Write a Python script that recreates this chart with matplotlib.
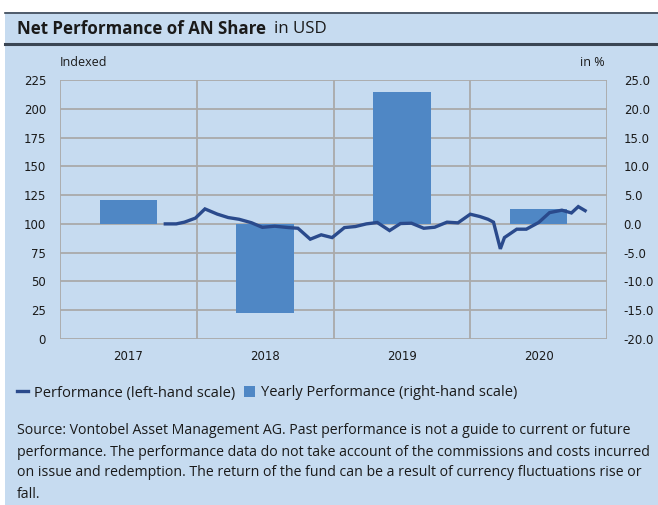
import matplotlib
matplotlib.use("Agg")
import matplotlib.pyplot as plt
from matplotlib.lines import Line2D
from matplotlib.patches import Rectangle

# Jahresperformance (rechte Skala, in %)
years = [2017, 2018, 2019, 2020]
yearly_perf = [4.1, -15.4, 22.9, 2.6]

# Indexierte Performance (linke Skala), x als Jahresbruchteil
perf_t = [2017.77, 2017.85, 2017.91, 2017.99, 2018.06, 2018.15, 2018.23,
          2018.31, 2018.40, 2018.48, 2018.57, 2018.67, 2018.74, 2018.83,
          2018.91, 2018.99, 2019.08, 2019.16, 2019.24, 2019.32, 2019.41,
          2019.49, 2019.57, 2019.66, 2019.74, 2019.83, 2019.91, 2020.00,
          2020.07, 2020.13, 2020.17, 2020.22, 2020.25, 2020.34, 2020.41,
          2020.50, 2020.58, 2020.67, 2020.74, 2020.79, 2020.84]
perf_idx = [100.0, 100.0, 101.5, 105.0, 113.0, 108.5, 105.5,
            104.0, 101.0, 97.0, 98.0, 96.8, 96.2, 86.7,
            90.5, 88.1, 96.8, 97.7, 100.0, 101.2, 94.2,
            100.3, 100.6, 96.2, 97.1, 101.5, 100.9, 108.4,
            106.4, 104.0, 101.5, 78.3, 88.1, 95.4, 95.4,
            101.2, 109.8, 111.9, 109.5, 115.0, 111.5]

left_ticks = [0, 25, 50, 75, 100, 125, 150, 175, 200, 225]
right_ticks = [-20, -15, -10, -5, 0, 5, 10, 15, 20, 25]

BG = "#c6dbf0"
BAR = "#4f87c5"
LINE = "#2a4a8c"
GRID = "#aaaaaa"
DARK = "#3a4654"
TXT = "#1a1a1a"

plt.rcParams["font.family"] = ["Open Sans", "DejaVu Sans"]

W, H = 658, 505
fig = plt.figure(figsize=(W / 100, H / 100), dpi=100, facecolor="white")

# Hintergrund und Kopfband
fig.patches.append(Rectangle((5 / W, 0), 1, 1 - 12 / H, transform=fig.transFigure,
                             facecolor=BG, edgecolor="none", zorder=-5))
fig.lines.append(Line2D([5 / W, 1], [1 - 12.5 / H] * 2, transform=fig.transFigure,
                        color=DARK, lw=1.2))
fig.lines.append(Line2D([5 / W, 1], [1 - 44 / H] * 2, transform=fig.transFigure,
                        color=DARK, lw=2.2))
fig.text(17 / W, 1 - 29 / H, "Net Performance of AN Share", fontsize=12.2,
         fontweight="bold", va="center", ha="left", color=TXT)
fig.text(274 / W, 1 - 29 / H, "in USD", fontsize=12.2, va="center", ha="left",
         color=TXT)

ax2 = fig.add_axes([60 / W, 1 - 339 / H, 547 / W, 259 / H])
ax2.patch.set_visible(False)
ax = ax2.twinx()
ax.set_zorder(ax2.get_zorder() + 1)
ax.patch.set_visible(False)

# Balken (rechte Skala)
centers = [y + 0.5 for y in years]
ax2.bar(centers, yearly_perf, width=0.42, color=BAR, zorder=2,
        label="Yearly Performance (right-hand scale)")
ax2.set_ylim(-20, 25)
ax2.set_yticks(right_ticks)
ax2.set_yticklabels([f"{v:.1f}" for v in right_ticks])
ax2.set_axisbelow(True)
ax2.grid(axis="y", color=GRID, lw=1.3)
for xv in [2017, 2018, 2019, 2020, 2021]:
    ax2.axvline(xv, color=GRID, lw=1.3, zorder=1)

# Linie (linke Skala)
ax.plot(perf_t, perf_idx, color=LINE, lw=2.4, solid_joinstyle="miter",
        label="Performance (left-hand scale)")
ax.set_ylim(0, 225)
ax.set_yticks(left_ticks)

ax2.yaxis.tick_right()
ax.yaxis.tick_left()

ax2.set_xlim(2017, 2021)
ax2.set_xticks(centers)
ax2.set_xticklabels([str(y) for y in years])

for a in (ax, ax2):
    for s in a.spines.values():
        s.set_visible(False)
    a.tick_params(length=0, colors=TXT)
    for lab in a.get_xticklabels() + a.get_yticklabels():
        lab.set_fontfamily("DejaVu Sans")
        lab.set_fontsize(8.5)
ax.tick_params(axis="y", pad=10)
ax2.tick_params(axis="y", pad=12)
ax2.tick_params(axis="x", pad=8)

fig.text(60 / W, 1 - 62 / H, "Indexed", fontsize=9, ha="left", va="center",
         color=TXT)
fig.text(605 / W, 1 - 62 / H, "in %", fontsize=9, ha="right", va="center",
         color=TXT)

# Legende
h1, l1 = ax.get_legend_handles_labels()
h2, l2 = ax2.get_legend_handles_labels()
leg = fig.legend(h1 + h2, l1 + l2, ncol=2, frameon=False, fontsize=10.5,
                 loc="center left", bbox_to_anchor=(4 / W, 1 - 393 / H),
                 handlelength=0.75, handleheight=0.85, handletextpad=0.4,
                 columnspacing=0.6)
for t in leg.get_texts():
    t.set_color(TXT)

source = [
    "Source: Vontobel Asset Management AG. Past performance is not a guide to current or future",
    "performance. The performance data do not take account of the commissions and costs incurred",
    "on issue and redemption. The return of the fund can be a result of currency fluctuations rise or",
    "fall.",
]
for i, line in enumerate(source):
    fig.text(17 / W, 1 - (431 + 21 * i) / H, line, fontsize=10.15,
             ha="left", va="center", color=TXT)

fig.savefig("out.png", dpi=100)
